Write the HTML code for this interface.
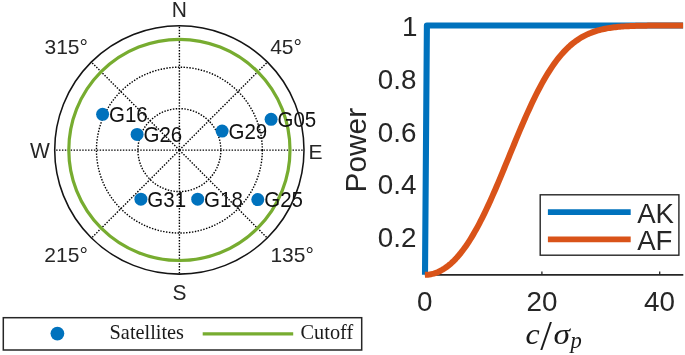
<!DOCTYPE html>
<html><head><meta charset="utf-8"><title>Figure</title>
<style>
html,body{margin:0;padding:0;background:#fff;}
body{width:685px;height:355px;overflow:hidden;}
svg{display:block;}
text{font-family:"Liberation Sans",Arial,sans-serif;fill:#262626;}
.sl{font-size:20.5px;fill:#111;}
.dir{font-size:21px;text-anchor:middle;}
.tk{font-size:27.8px;}
.ser{font-family:"Liberation Serif","Times New Roman",serif;fill:#1a1a1a;}
.dot line,.dot circle{stroke:#000;stroke-width:1.4;stroke-dasharray:1.45 1.45;fill:none;}
</style></head><body>
<svg width="685" height="355" viewBox="0 0 685 355">
<rect width="685" height="355" fill="#fff"/>
<!-- skyplot -->
<g class="dot"><line x1="179.4" y1="150.1" x2="179.40" y2="25.70"/><line x1="179.4" y1="150.1" x2="267.36" y2="62.14"/><line x1="179.4" y1="150.1" x2="303.80" y2="150.10"/><line x1="179.4" y1="150.1" x2="267.36" y2="238.06"/><line x1="179.4" y1="150.1" x2="179.40" y2="274.50"/><line x1="179.4" y1="150.1" x2="91.44" y2="238.06"/><line x1="179.4" y1="150.1" x2="55.00" y2="150.10"/><line x1="179.4" y1="150.1" x2="91.44" y2="62.14"/>
<circle cx="179.4" cy="150.1" r="41.47"/><circle cx="179.4" cy="150.1" r="82.93"/></g>
<ellipse cx="179.35" cy="149.95" rx="124.65" ry="124.15" fill="none" stroke="#141414" stroke-width="1.55"/>
<circle cx="179.4" cy="149.9" r="110.6" fill="none" stroke="#77AC30" stroke-width="3.2"/>
<circle cx="102.6" cy="114.3" r="6.5" fill="#0072BD"/><text transform="translate(109.0,121.8) scale(1,1.04)" class="sl">G16</text><circle cx="137.1" cy="134.4" r="6.5" fill="#0072BD"/><text transform="translate(143.5,141.9) scale(1,1.04)" class="sl">G26</text><circle cx="222.1" cy="131.1" r="6.5" fill="#0072BD"/><text transform="translate(228.5,138.6) scale(1,1.04)" class="sl">G29</text><circle cx="271.1" cy="119.3" r="6.5" fill="#0072BD"/><text transform="translate(277.5,126.8) scale(1,1.04)" class="sl">G05</text><circle cx="140.9" cy="199.2" r="6.5" fill="#0072BD"/><text transform="translate(147.3,206.7) scale(1,1.04)" class="sl">G31</text><circle cx="197.7" cy="199.2" r="6.5" fill="#0072BD"/><text transform="translate(204.1,206.7) scale(1,1.04)" class="sl">G18</text><circle cx="257.8" cy="199.6" r="6.5" fill="#0072BD"/><text transform="translate(264.2,207.1) scale(1,1.04)" class="sl">G25</text>
<text class="dir" transform="translate(179.3,16.9) scale(1,1.06)">N</text>
<text class="dir" transform="translate(179.4,300.2) scale(1,1.03)">S</text>
<text class="dir" transform="translate(39.9,158.1) scale(1,1.05)">W</text>
<text class="dir" x="315.6" y="158.5">E</text>
<text class="dir" x="87.9" y="54.1" style="text-anchor:end">315°</text>
<text class="dir" x="270.2" y="54.1" style="text-anchor:start">45°</text>
<text class="dir" x="87.8" y="261.9" style="text-anchor:end">215°</text>
<text class="dir" x="270.4" y="261.9" style="text-anchor:start">135°</text>
<!-- legend left -->
<rect x="3.3" y="317.7" width="358.4" height="32.3" fill="#fff" stroke="#262626" stroke-width="1.5"/>
<circle cx="57.4" cy="333.6" r="6.9" fill="#0072BD"/>
<text class="ser" x="109.6" y="338.7" font-size="20.3">Satellites</text>
<line x1="202.7" y1="333.8" x2="293.2" y2="333.8" stroke="#77AC30" stroke-width="3.2"/>
<text class="ser" x="300.6" y="338.7" font-size="20.3">Cutoff</text>
<!-- right plot -->
<line x1="424.9" y1="274.85" x2="683.3" y2="274.85" stroke="#262626" stroke-width="1.6"/>
<line x1="541.9" y1="274.8" x2="541.9" y2="271.4" stroke="#262626" stroke-width="1.3"/>
<line x1="659.7" y1="274.8" x2="659.7" y2="271.4" stroke="#262626" stroke-width="1.3"/>
<path d="M425.00,274.80 L426.90,25.45 L683.09,25.45" fill="none" stroke="#0072BD" stroke-width="6.1" stroke-linejoin="round"/>
<path d="M424.90,274.80 L426.37,274.76 L427.83,274.66 L429.30,274.48 L430.77,274.23 L432.23,273.92 L433.70,273.53 L435.17,273.07 L436.64,272.54 L438.10,271.93 L439.57,271.25 L441.04,270.50 L442.50,269.68 L443.97,268.78 L445.44,267.80 L446.90,266.75 L448.37,265.63 L449.84,264.42 L451.31,263.14 L452.77,261.78 L454.24,260.34 L455.71,258.82 L457.17,257.23 L458.64,255.55 L460.11,253.79 L461.57,251.96 L463.04,250.04 L464.51,248.04 L465.98,245.97 L467.44,243.81 L468.91,241.58 L470.38,239.26 L471.84,236.87 L473.31,234.41 L474.78,231.87 L476.25,229.25 L477.71,226.56 L479.18,223.80 L480.65,220.98 L482.11,218.08 L483.58,215.12 L485.05,212.10 L486.51,209.02 L487.98,205.88 L489.45,202.68 L490.91,199.44 L492.38,196.15 L493.85,192.81 L495.32,189.43 L496.78,186.01 L498.25,182.56 L499.72,179.08 L501.18,175.57 L502.65,172.04 L504.12,168.49 L505.58,164.93 L507.05,161.36 L508.52,157.78 L509.99,154.20 L511.45,150.63 L512.92,147.06 L514.39,143.50 L515.85,139.96 L517.32,136.43 L518.79,132.93 L520.25,129.46 L521.72,126.01 L523.19,122.61 L524.66,119.24 L526.12,115.91 L527.59,112.63 L529.06,109.39 L530.52,106.21 L531.99,103.08 L533.46,100.01 L534.92,97.00 L536.39,94.04 L537.86,91.16 L539.33,88.34 L540.79,85.58 L542.26,82.90 L543.73,80.28 L545.19,77.74 L546.66,75.27 L548.13,72.87 L549.60,70.55 L551.06,68.30 L552.53,66.12 L554.00,64.02 L555.46,61.99 L556.93,60.04 L558.40,58.16 L559.86,56.35 L561.33,54.62 L562.80,52.95 L564.26,51.36 L565.73,49.83 L567.20,48.37 L568.67,46.98 L570.13,45.65 L571.60,44.39 L573.07,43.18 L574.53,42.04 L576.00,40.95 L577.47,39.93 L578.93,38.95 L580.40,38.03 L581.87,37.16 L583.34,36.34 L584.80,35.57 L586.27,34.84 L587.74,34.15 L589.20,33.51 L590.67,32.91 L592.14,32.34 L593.61,31.81 L595.07,31.32 L596.54,30.86 L598.01,30.43 L599.47,30.03 L600.94,29.65 L602.41,29.31 L603.87,28.99 L605.34,28.69 L606.81,28.41 L608.27,28.16 L609.74,27.92 L611.21,27.70 L612.68,27.50 L614.14,27.32 L615.61,27.15 L617.08,26.99 L618.54,26.85 L620.01,26.71 L621.48,26.59 L622.94,26.48 L624.41,26.38 L625.88,26.29 L627.35,26.21 L628.81,26.13 L630.28,26.06 L631.75,26.00 L633.21,25.95 L634.68,25.89 L636.15,25.85 L637.62,25.81 L639.08,25.77 L640.55,25.73 L642.02,25.70 L643.48,25.67 L644.95,25.65 L646.42,25.63 L647.88,25.61 L649.35,25.59 L650.82,25.57 L652.28,25.56 L653.75,25.55 L655.22,25.54 L656.69,25.53 L658.15,25.52 L659.62,25.51 L661.09,25.50 L662.55,25.50 L664.02,25.49 L665.49,25.48 L666.95,25.48 L668.42,25.48 L669.89,25.47 L671.36,25.47 L672.82,25.47 L674.29,25.47 L675.76,25.46 L677.22,25.46 L678.69,25.46 L680.16,25.46 L681.62,25.46 L683.09,25.46" fill="none" stroke="#D95319" stroke-width="6.0" stroke-linejoin="round"/>
<text class="tk" x="417.4" y="36.4" text-anchor="end">1</text>
<text class="tk" x="416.5" y="89.3" text-anchor="end">0.8</text>
<text class="tk" x="416.5" y="141.8" text-anchor="end">0.6</text>
<text class="tk" x="416.5" y="194.3" text-anchor="end">0.4</text>
<text class="tk" x="416.5" y="246.9" text-anchor="end">0.2</text>
<text class="tk" x="424.8" y="311.1" text-anchor="middle">0</text>
<text class="tk" x="541.9" y="311.1" text-anchor="middle">20</text>
<text class="tk" x="659.5" y="311.1" text-anchor="middle">40</text>
<text x="0" y="0" font-size="29.8" transform="translate(365.6,192.4) rotate(-90)">Power</text>
<text class="ser" y="344" font-size="29"><tspan x="525.5" font-style="italic" textLength="14.2" lengthAdjust="spacingAndGlyphs">c</tspan><tspan x="540.3" y="350.2" font-size="42">/</tspan><tspan x="553.6" y="344" font-style="italic" textLength="16.5" lengthAdjust="spacingAndGlyphs">σ</tspan><tspan x="570.4" y="347.9" font-size="22.6" font-style="italic">p</tspan></text>
<!-- legend right -->
<rect x="540.2" y="194.8" width="138.7" height="60.4" fill="#fff" stroke="#262626" stroke-width="1.4"/>
<line x1="547.9" y1="212.1" x2="630.7" y2="212.1" stroke="#0072BD" stroke-width="5.8"/>
<line x1="547.9" y1="239.3" x2="630.7" y2="239.3" stroke="#D95319" stroke-width="5.8"/>
<text x="637.2" y="222.5" font-size="27.6">AK</text>
<text x="637.2" y="249.7" font-size="27.6">AF</text>
</svg>
</body></html>
